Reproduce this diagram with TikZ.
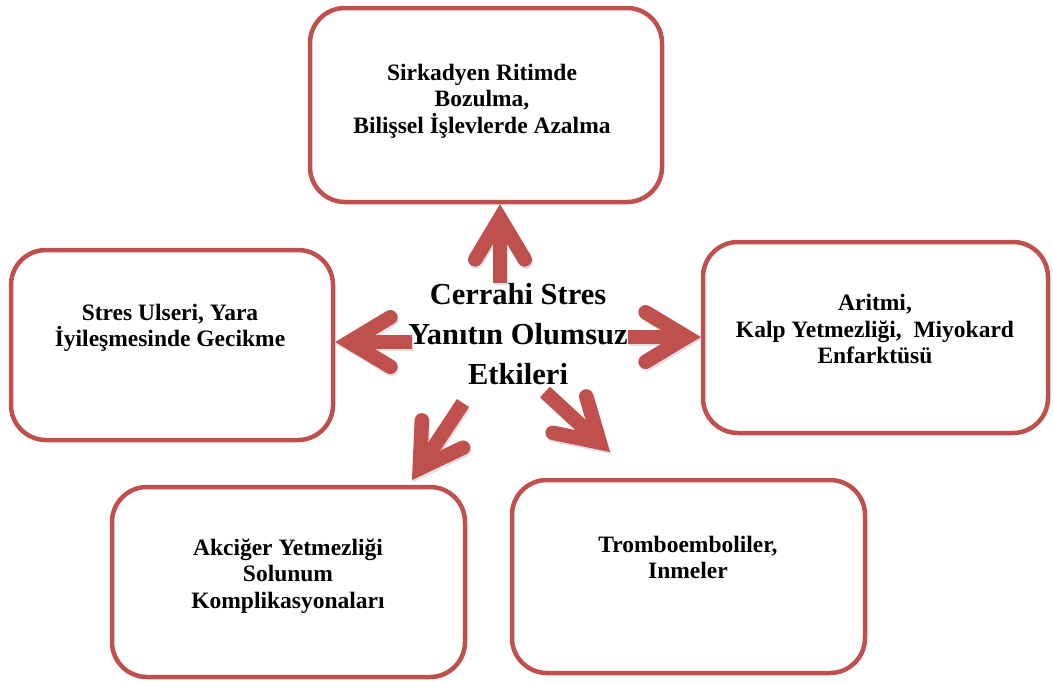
\documentclass[tikz,border=0pt]{standalone}
\usepackage{fontspec}
\setmainfont{Liberation Serif}
\usetikzlibrary{calc}
\definecolor{boxred}{RGB}{192,80,77}
\tikzset{
  effectbox/.style={draw=boxred, line width=4.5pt, rounded corners=35pt, fill=white, inner sep=0pt},
  boxtext/.style={font=\fontsize{23.5}{26.5}\selectfont\bfseries, align=center, inner sep=0pt},
  centertext/.style={font=\fontsize{30.5}{40}\selectfont\bfseries, align=center, inner sep=0pt},
  arrowshaft/.style={draw=boxred, line width=14.5pt, line cap=butt},
  arrowhead/.style={draw=boxred, line width=14.5pt, line cap=round, line join=miter},
  arrowshadow/.style={draw=black!12, line width=14.5pt, line cap=butt, transform canvas={xshift=1.2pt,yshift=-2.2pt}},
  headshadow/.style={draw=black!12, line width=14.5pt, line cap=round, transform canvas={xshift=1.2pt,yshift=-2.2pt}},
}
% #1 vertex name, #2 start coordinate, #3 visual tip
\newcommand{\redarrow}[3]{%
  \coordinate (#1) at ($(#3)!14pt!(#2)$);
  \draw[arrowshadow] (#2) -- (#1);
  \draw[headshadow] ($(#1)!48pt!31:(#2)$) -- (#1) -- ($(#1)!48pt!-31:(#2)$);
  \draw[arrowshaft] (#2) -- (#1);
  \draw[arrowhead] ($(#1)!48pt!31:(#2)$) -- (#1) -- ($(#1)!48pt!-31:(#2)$);
}
\begin{document}
\begin{tikzpicture}[x=1pt,y=-1pt]
\useasboundingbox[fill=white] (0,0) rectangle (1053,681);

% boxes
\node[effectbox, minimum width=352pt, minimum height=194pt] (top) at (486,105) {};
\node[effectbox, minimum width=322pt, minimum height=190pt] (left) at (172,345) {};
\node[effectbox, minimum width=345pt, minimum height=191pt] (right) at (875.5,337.5) {};
\node[effectbox, minimum width=353pt, minimum height=190pt] (botleft) at (288.5,582) {};
\node[effectbox, minimum width=353pt, minimum height=193pt] (botright) at (688.5,576.5) {};

% arrow start / tip coordinates
\coordinate (s1) at (500,283);
\coordinate (s2) at (412,342);
\coordinate (s3) at (628,337);
\coordinate (s4) at (463,403);
\coordinate (t4) at (412,480);
\coordinate (s5) at (545,392);
\coordinate (t5) at (610,452);

\redarrow{v1}{s1}{s1 |- top.south}
\redarrow{v2}{s2}{s2 -| left.east}
\redarrow{v3}{s3}{s3 -| right.west}
\redarrow{v4}{s4}{t4}
\redarrow{v5}{s5}{t5}

% texts
\node[centertext] (center) at (518,334) {Cerrahi Stres\\Yanıtın Olumsuz\\Etkileri};
\node[boxtext] (toptext) at (482,101) {Sirkadyen Ritimde\\Bozulma,\\Bilişsel İşlevlerde Azalma};
\node[boxtext] (lefttext) at (170,328) {Stres Ulseri, Yara\\İyileşmesinde Gecikme};
\node[boxtext] (righttext) at (875,329) {Aritmi,\\Kalp Yetmezliği,\ \ Miyokard\\Enfarktüsü};
\node[boxtext] (bltext) at (288,576) {Akciğer Yetmezliği\\Solunum\\Komplikasyonaları};
\node[boxtext] (brtext) at (688,557.5) {Tromboemboliler,\\Inmeler};
\end{tikzpicture}
\end{document}
